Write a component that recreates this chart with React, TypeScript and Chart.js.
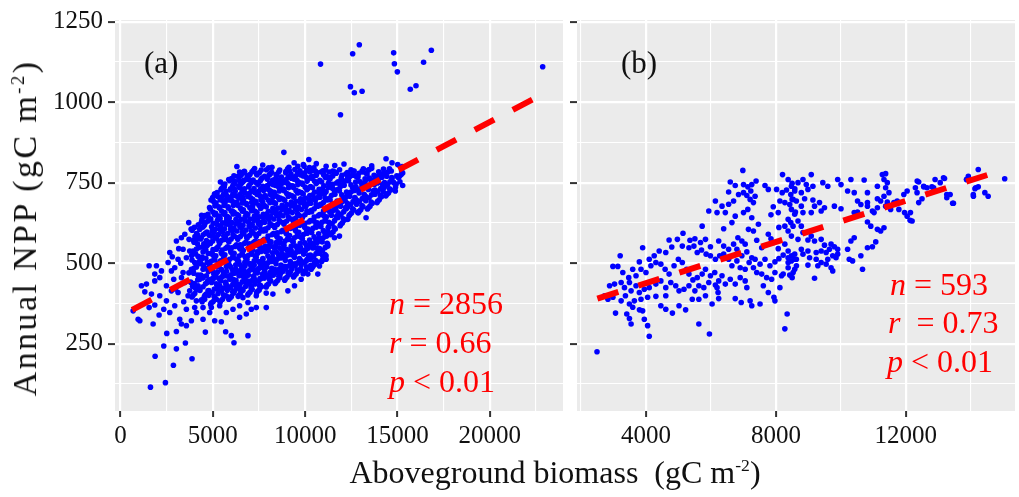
import React, { useEffect, useRef } from "react";
import { Chart, registerables } from "chart.js";

Chart.register(...registerables);

// ---------- Axis settings ----------
const yRange: [number, number] = [41, 1255];
const yMajor = [250, 500, 750, 1000, 1250];
const yMinor = [125, 375, 625, 875, 1125];
const aXRange: [number, number] = [-300, 23960];
const aXMajor = [0, 5000, 10000, 15000, 20000];
const aXMinor = [2500, 7500, 12500, 17500, 22500];
const bXRange: [number, number] = [1877, 15360];
const bXMajor = [4000, 8000, 12000];
const bXMinor = [2000, 6000, 10000, 14000];

// ---------- Regression lines ----------
const aFitX = [630, 22860];
const aFitY = [355, 1025];
const bFitX = [2504, 15045];
const bFitY = [390, 791];

// ---------- Panel (a) points ----------
const aOutliers: [number, number][] = [
  [10830,1118],[11910,961],[12570,1150],[12930,1178],[12450,1048],[12660,1029],[13080,1034],
  [14790,1153],[14830,1119],[14990,1094],[15690,1040],[16000,1051],[16410,1124],[16830,1161],[22860,1110],
];
const aTail: [number, number][] = [
  [1620,115],[2431,129],[1872,211],[2863,183],[3872,203],[2341,243],[3025,234],[3512,252],[2503,282],[3025,288],
  [4593,286],[5692,287],[6143,253],[5999,275],[6900,275],[1764,311],[953,326],[1043,321],[683,352],[1548,362],
  [1314,411],[1133,430],[1548,492],[1944,492],[1854,466],[2215,476],[2575,502],[2665,533],[3025,569],[3296,579],
  [3692,626],[3836,605],[4287,605],[4377,628],[4557,648],[4827,636],[5098,715],[5368,672],[5332,646],[5728,698],
  [6179,729],[6449,755],[6179,755],[6449,783],[6720,783],[7260,794],[6810,760],[3566,517],[2935,486],[2881,450],
  [2485,430],[2124,455],[1854,445],[1674,404],[1404,435],[1854,370],[2088,339],[2341,357],[2665,347],[2935,368],
  [3206,326],[3296,311],[3566,306],[3836,321],[4107,347],[4467,326],[4827,347],[5098,321],[5458,318],[5728,347],
  [6089,357],[6449,332],[6810,342],[7080,357],[7350,362],[7891,362],[3710,574],[4107,574],[3386,543],[3746,538],
  [3116,512],[2755,476],[3386,471],[3926,476],[4377,512],[4647,553],[4918,584],[5368,605],[5638,574],[5909,626],
  [5188,543],[4197,430],[4557,388],[5188,388],[5728,399],[6179,414],[6629,393],[3656,399],[3116,409],[2485,383],
  [2124,399],[2755,414],[3476,440],[3746,414],[4107,383],[4737,414],[5008,450],[5368,430],[6089,450],[6449,476],
  [5909,492],[5368,502],[4827,492],[4647,461],[4287,450],[4016,502],[4467,481],[5548,461],[5368,368],[4918,362],
  [4467,362],[4016,362],[3566,357],[6449,368],[6900,378],[7350,399],[7530,430],[7080,430],[6810,461],[6449,419],
  [3300,455],[3150,545],[3480,590],[2980,420],[3700,470],[3260,500],[2800,520],[3420,380],
];
const aEdge: [number, number][] = [
  [8844,844],[10196,822],[14377,824],[15008,806],[15278,780],[15278,741],[14881,724],[14232,721],[14377,744],
  [13836,760],[13746,744],[13476,791],[13295,641],[12845,657],[12305,636],[11854,584],[11583,579],[11224,553],
  [10953,522],[10683,466],[10142,466],[9782,450],[9421,430],[9061,414],[8250,404],[7890,407],[9601,801],[9153,786],
  [8430,775],[11133,801],[11493,786],[12305,775],[12755,770],[12575,786],[11133,512],[10773,491],[10503,502],[10322,481],
  [6300,800],[7700,805],[8200,798],[9400,812],[9900,806],[10600,809],[11600,803],[12100,808],[13600,802],[14700,812],
];
const aCore: [number, number][] = [
  [3870,395],[4140,418],[3990,437],[4230,459],[3840,481],[4090,497],[4200,521],[3930,538],[4160,560],[4030,583],[3880,602],[4210,619],
  [4390,386],[4640,404],[4470,427],[4720,445],[4350,463],[4580,484],[4700,503],[4420,519],[4620,541],[4510,560],[4370,579],[4680,597],[4540,618],[4410,636],[4730,652],
  [4880,372],[5130,391],[4960,409],[5220,432],[4840,449],[5050,466],[5240,488],[4910,506],[5160,523],[5010,542],[4870,561],[5200,577],[5060,596],[4930,613],[5250,633],[5090,650],[4860,668],[5170,687],[4990,704],[5230,719],
  [5390,379],[5630,398],[5460,414],[5700,436],[5340,452],[5570,471],[5730,490],[5420,507],[5650,526],[5510,541],[5370,562],[5680,580],[5530,598],[5430,616],[5750,633],[5590,652],[5360,671],[5660,688],[5490,706],[5710,723],[5570,741],[5410,752],
  [5860,388],[6130,407],[5960,425],[6220,441],[5820,460],[6070,478],[6240,495],[5910,512],[6150,531],[6010,548],[5870,566],[6180,583],[6050,601],[5930,617],[6250,636],[6090,653],[5840,671],[6160,688],[5990,705],[6210,723],[6070,739],[5910,756],[6140,771],
  [6370,397],[6630,416],[6460,433],[6700,452],[6340,470],[6570,487],[6730,503],[6420,522],[6650,539],[6490,557],[6350,574],[6680,591],[6550,609],[6410,627],[6750,644],[6590,661],[6360,679],[6660,696],[6470,713],[6710,731],[6550,748],[6420,766],[6640,781],
  [6890,401],[7130,419],[6940,436],[7220,455],[6820,472],[7070,490],[7240,507],[6910,524],[7150,541],[6990,560],[6850,577],[7180,594],[7030,612],[6930,628],[7250,646],[7090,663],[6840,681],[7160,698],[6970,716],[7230,732],[7070,750],[6880,767],[7120,784],
  [7370,408],[7630,427],[7460,444],[7720,461],[7320,479],[7570,496],[7710,514],[7420,531],[7650,548],[7490,566],[7350,583],[7700,600],[7550,618],[7410,635],[7730,652],[7590,670],[7340,687],[7660,704],[7470,722],[7710,739],[7570,756],[7390,774],[7620,789],
  [7890,426],[8130,445],[7940,462],[8220,480],[7840,497],[8070,514],[8240,532],[7910,549],[8150,566],[7990,584],[7850,601],[8200,618],[8030,636],[7930,653],[8250,670],[8090,688],[7860,705],[8160,722],[7970,740],[8230,757],[8050,774],[7900,790],
  [8370,437],[8630,455],[8460,472],[8700,490],[8340,507],[8570,524],[8730,542],[8420,559],[8650,576],[8490,594],[8350,611],[8680,628],[8550,646],[8410,663],[8750,680],[8590,698],[8360,715],[8640,732],[8470,750],[8710,767],[8570,784],
  [8890,447],[9130,465],[8940,482],[9220,500],[8840,517],[9070,534],[9240,552],[8910,569],[9150,586],[8990,604],[8850,621],[9180,638],[9030,656],[8930,673],[9250,690],[9090,708],[8860,725],[9160,742],[8970,760],[9230,777],[9050,793],
  [9370,457],[9630,475],[9460,492],[9700,510],[9340,527],[9570,544],[9730,562],[9420,579],[9650,596],[9490,614],[9350,631],[9680,648],[9550,666],[9410,683],[9750,700],[9590,718],[9360,735],[9640,752],[9470,770],[9710,787],
  [9890,467],[10130,485],[9940,502],[10220,520],[9840,537],[10070,554],[10240,572],[9910,589],[10150,606],[9990,624],[9850,641],[10180,658],[10030,676],[9930,693],[10250,710],[10090,728],[9860,745],[10160,762],[9970,780],[10230,797],
  [10370,486],[10630,504],[10460,521],[10700,539],[10340,556],[10570,573],[10730,591],[10420,608],[10650,625],[10490,643],[10350,660],[10680,677],[10550,695],[10410,712],[10750,729],[10590,747],[10360,764],[10640,781],[10470,796],
  [10890,505],[11130,523],[10940,540],[11220,558],[10840,575],[11070,592],[11240,610],[10910,627],[11150,644],[10990,662],[10850,679],[11180,696],[11030,714],[10930,731],[11250,748],[11090,766],[10860,783],
  [11370,588],[11630,606],[11460,623],[11700,641],[11340,658],[11570,675],[11730,693],[11420,710],[11650,727],[11490,745],[11350,762],[11680,779],
  [11890,616],[12130,634],[11940,651],[12220,669],[11840,686],[12070,703],[12240,721],[11910,738],[12150,755],[11990,773],[11860,790],
  [12370,647],[12630,665],[12460,682],[12700,700],[12340,717],[12570,734],[12730,752],[12420,769],[12650,786],
  [12890,657],[13130,675],[12940,692],[13220,710],[12840,727],[13070,744],[13240,762],[12910,779],[13150,793],
  [13370,668],[13630,686],[13460,703],[13700,721],[13340,738],[13570,755],[13730,773],[13420,789],
  [13890,688],[14130,706],[13940,723],[14220,741],[13840,758],[14070,775],[14240,792],
  [14370,709],[14630,727],[14460,744],[14700,762],[14340,779],[14560,793],
  [14890,736],[15130,753],[14960,771],[15220,788],
];
const aCore2: [number, number][] = [
  [4020,406],[3900,428],[4180,448],[3960,469],[4110,488],[3870,510],[4060,529],[4240,549],[3950,571],[4120,592],[4000,611],
  [4530,395],[4300,415],[4600,436],[4440,454],[4760,474],[4490,494],[4310,511],[4750,530],[4420,550],[4650,570],[4480,588],[4300,607],[4620,627],[4520,645],
  [5020,381],[4780,400],[5080,420],[4930,440],[5180,457],[4970,477],[4800,497],[5070,514],[4950,532],[5280,551],[4990,569],[4800,587],[5130,605],[5020,624],[4780,641],[5000,659],[5110,678],[4900,696],[5080,712],
  [5520,388],[5280,406],[5580,423],[5430,445],[5680,461],[5470,480],[5290,498],[5580,516],[5450,534],[5790,551],[5480,571],[5300,589],[5630,607],[5520,625],[5290,643],[5480,661],[5600,679],[5390,697],[5580,714],[5470,732],[5650,746],
  [6000,396],[5780,416],[6080,434],[5920,450],[6160,469],[5980,487],[5800,504],[6080,521],[5960,539],[6280,557],[5990,575],[5800,592],[6140,609],[6020,626],[5790,645],[5990,662],[6110,679],[5890,696],[6080,714],[5960,731],[6180,748],[6010,763],
  [6500,406],[6280,424],[6590,442],[6420,461],[6670,478],[6480,495],[6290,512],[6580,530],[6440,548],[6780,565],[6490,583],[6300,600],[6630,618],[6520,636],[6290,652],[6500,670],[6600,687],[6390,704],[6580,722],[6460,739],[6680,757],[6530,773],
  [7010,410],[6780,428],[7080,445],[6920,463],[7160,481],[6980,498],[6790,515],[7080,532],[6950,550],[7280,568],[6990,586],[6800,603],[7130,620],[7010,637],[6790,655],[7000,672],[7100,689],[6890,707],[7080,724],[6960,741],[7180,758],[7010,775],
  [7510,417],[7280,435],[7590,452],[7420,470],[7660,487],[7480,505],[7290,522],[7580,540],[7450,557],[7780,574],[7490,592],[7300,609],[7630,627],[7510,644],[7290,661],[7500,679],[7600,696],[7390,713],[7580,730],[7460,748],[7680,765],[7520,781],
  [8010,435],[7780,453],[8090,471],[7920,488],[8160,505],[7980,523],[7790,540],[8080,557],[7950,575],[8280,592],[7990,610],[7800,627],[8130,645],[8010,661],[7790,679],[8000,696],[8100,714],[7890,731],[8080,748],[7960,765],[8180,782],
  [8510,446],[8280,463],[8590,481],[8420,498],[8660,516],[8480,533],[8290,550],[8580,568],[8450,585],[8780,602],[8490,620],[8300,637],[8630,654],[8510,671],[8290,689],[8500,706],[8600,724],[8390,741],[8580,758],[8460,776],
  [9010,456],[8780,474],[9090,491],[8920,509],[9160,526],[8980,543],[8790,560],[9080,578],[8950,595],[9280,612],[8990,630],[8800,647],[9130,664],[9010,682],[8790,699],[9000,716],[9100,734],[8890,751],[9080,768],[8960,785],
  [9510,466],[9280,483],[9590,501],[9420,518],[9660,536],[9480,553],[9290,570],[9580,588],[9450,605],[9780,622],[9490,640],[9300,657],[9630,674],[9510,692],[9290,709],[9500,726],[9600,744],[9390,761],[9580,778],
  [10010,476],[9780,494],[10090,511],[9920,528],[10160,546],[9980,563],[9790,580],[10080,598],[9950,615],[10280,632],[9990,650],[9800,667],[10130,684],[10010,702],[9790,719],[10000,736],[10100,754],[9890,771],[10080,788],
  [10510,495],[10280,512],[10590,530],[10420,547],[10660,565],[10480,582],[10290,599],[10580,617],[10450,634],[10780,651],[10490,669],[10300,686],[10630,703],[10510,721],[10290,738],[10500,755],[10600,773],[10390,788],
  [11010,514],[10780,531],[11090,549],[10920,566],[11160,584],[10980,601],[10790,618],[11080,636],[10950,653],[11280,670],[10990,688],[10800,705],[11130,722],[11010,740],[10790,757],[11000,774],[11100,789],
  [11510,597],[11280,614],[11590,632],[11420,649],[11660,667],[11480,684],[11290,701],[11580,719],[11450,736],[11780,753],[11490,771],[11300,783],
  [12010,625],[11780,642],[12090,660],[11920,677],[12160,695],[11980,712],[11790,729],[12080,747],[11950,764],[12280,781],
  [12510,656],[12280,673],[12590,691],[12420,708],[12660,726],[12480,743],[12290,760],[12580,778],
  [13010,666],[12780,683],[13090,701],[12920,718],[13160,736],[12980,753],[12790,770],[13080,786],
  [13510,677],[13280,694],[13590,712],[13420,729],[13660,747],[13480,764],[13290,780],
  [14010,697],[13780,714],[14090,732],[13920,749],[14160,767],[13980,784],
  [14510,718],[14280,735],[14590,753],[14420,770],[14660,786],
  [14800,750],[15050,765],[15200,775],
];
const aCore3: [number, number][] = [
  [3930,400],[4070,421],[3800,441],[4190,463],[3980,484],[4240,503],[3850,524],[4110,544],[3980,565],[4170,587],[3830,606],
  [4420,380],[4570,400],[4280,420],[4690,440],[4480,458],[4740,478],[4340,498],[4620,515],[4470,535],[4700,556],[4330,575],[4590,593],[4460,612],[4740,631],[4390,649],
  [4920,377],[5070,396],[4780,415],[5190,436],[4980,452],[5240,472],[4850,492],[5110,510],[4980,527],[5200,546],[4830,565],[5090,582],[4960,600],[5240,619],[4890,637],[5150,655],[4820,673],[5050,691],[5250,708],
  [5420,383],[5570,402],[5280,419],[5690,441],[5480,457],[5740,475],[5350,494],[5610,512],[5480,529],[5700,546],[5330,567],[5590,585],[5460,603],[5740,621],[5390,639],[5650,657],[5320,675],[5550,692],[5750,710],[5440,728],[5620,737],
  [5920,392],[6070,411],[5780,430],[6190,446],[5980,464],[6240,482],[5850,500],[6110,517],[5980,534],[6200,552],[5830,570],[6090,588],[5960,605],[6240,622],[5890,640],[6150,658],[5820,675],[6050,692],[6250,709],[5940,727],[6120,744],[5860,760],
  [6420,401],[6570,420],[6280,437],[6690,456],[6480,474],[6740,491],[6350,508],[6610,526],[6480,544],[6700,561],[6330,579],[6590,596],[6460,614],[6740,632],[6390,648],[6650,666],[6320,683],[6550,700],[6750,718],[6440,735],[6620,752],[6360,770],[6700,785],
  [6920,405],[7070,424],[6780,441],[7190,459],[6980,477],[7240,494],[6850,511],[7110,528],[6980,546],[7200,564],[6830,581],[7090,599],[6960,616],[7240,633],[6890,651],[7150,668],[6820,685],[7050,703],[7250,720],[6940,737],[7120,754],[6860,771],[7200,788],
  [7420,413],[7570,431],[7280,448],[7690,466],[7480,483],[7740,501],[7350,518],[7610,536],[7480,553],[7700,570],[7330,588],[7590,605],[7460,623],[7740,640],[7390,657],[7650,675],[7320,692],[7550,709],[7750,726],[7440,744],[7620,761],[7360,778],
  [7920,431],[8070,449],[7780,467],[8190,484],[7980,501],[8240,519],[7850,536],[8110,553],[7980,571],[8200,588],[7830,606],[8090,623],[7960,641],[8240,657],[7890,675],[8150,692],[7820,710],[8050,727],[8250,744],[7940,761],[8120,778],[8020,796],
  [8420,441],[8570,459],[8280,476],[8690,494],[8480,512],[8740,528],[8350,546],[8610,564],[8480,581],[8700,598],[8330,616],[8590,633],[8460,650],[8740,667],[8390,685],[8650,702],[8320,720],[8550,737],[8750,754],[8440,771],[8620,789],
  [8920,452],[9070,470],[8780,487],[9190,505],[8980,522],[9240,539],[8850,556],[9110,574],[8980,591],[9200,608],[8830,626],[9090,643],[8960,660],[9240,678],[8890,695],[9150,712],[8820,730],[9050,747],[9250,764],[8940,781],[9120,798],
  [9420,462],[9570,479],[9280,497],[9690,514],[9480,532],[9740,549],[9350,566],[9610,584],[9480,601],[9700,618],[9330,636],[9590,653],[9460,670],[9740,688],[9390,705],[9650,722],[9320,740],[9550,757],[9750,774],[9440,791],
  [9920,472],[10070,489],[9780,507],[10190,524],[9980,541],[10240,559],[9850,576],[10110,593],[9980,611],[10200,628],[9830,645],[10090,662],[9960,680],[10240,697],[9890,715],[10150,732],[9820,749],[10050,767],[10250,784],[9940,801],
  [10420,490],[10570,508],[10280,525],[10690,543],[10480,560],[10740,578],[10350,595],[10610,612],[10480,630],[10700,647],[10330,664],[10590,682],[10460,699],[10740,716],[10390,734],[10650,751],[10320,768],[10550,786],
  [10920,509],[11070,527],[10780,545],[11190,562],[10980,579],[11240,597],[10850,614],[11110,631],[10980,649],[11200,666],[10830,683],[11090,701],[10960,718],[11240,735],[10890,752],[11150,770],[10960,787],
  [11420,592],[11570,610],[11280,627],[11690,645],[11480,662],[11740,680],[11350,697],[11610,714],[11480,732],[11700,749],[11330,766],[11590,784],
  [11920,620],[12070,638],[11780,656],[12190,673],[11980,690],[12240,708],[11850,725],[12110,742],[11980,760],[12200,777],
  [12420,651],[12570,669],[12280,686],[12690,704],[12480,721],[12740,738],[12350,756],[12610,773],[12480,790],
  [12920,661],[13070,679],[12780,696],[13190,714],[12980,731],[13240,749],[12850,766],[13110,783],
  [13420,672],[13570,690],[13280,707],[13690,725],[13480,742],[13740,760],[13350,777],[13600,795],
  [13920,692],[14070,710],[13780,727],[14190,745],[13980,762],[14240,780],
  [14420,714],[14570,731],[14280,749],[14690,766],[14480,783],
  [14920,745],[15100,770],[15250,800],
];
const aDense: [number, number][] = [
  [6250,447],[6600,462],[6850,445],[7300,470],[7550,452],[7800,476],[8100,458],[8350,481],[8650,466],[8900,490],
  [9200,474],[9450,498],[9750,482],[10050,506],[10300,493],[6400,505],[6750,520],[7050,498],[7400,535],[7700,512],
  [8000,540],[8300,507],[8600,548],[8850,525],[9150,541],[9400,520],[9700,553],[10000,537],[10350,561],[10650,548],
  [6550,548],[7250,560],[7850,553],[8450,565],[9050,575],[9600,585],[5750,640],[6050,662],[6300,690],[6600,705],
  [6850,650],[7150,676],[7400,720],[7700,690],[7950,741],[8250,705],[8450,650],[5950,700],[6400,740],[6950,760],
  [7350,750],[7800,770],[8350,760],[8700,745],[9300,765],[9800,780],[10400,770],[11300,760],[11800,750],[12300,765],
  [12850,770],[13300,760],[13900,770],[14300,750],
];

// ---------- Panel (b) points ----------
const bPoints: [number, number][] = [
  [6982,788],[8204,775],[8377,760],[8499,748],[8581,731],[6595,752],[6748,741],[7003,744],[7135,737],[7257,744],
  [7390,755],[7227,724],[7003,719],[6850,713],[6545,721],[7664,741],[7766,729],[8021,729],[8194,719],[8326,727],
  [8458,713],[8499,698],[8123,693],[8275,688],[8479,667],[8601,659],[7919,675],[8072,657],[7848,650],[8377,636],
  [8458,626],[8275,615],[8092,611],[6137,693],[6341,677],[6545,683],[6697,693],[6443,657],[6188,657],[5934,662],
  [6646,626],[6392,607],[6748,646],[7003,657],[7135,667],[7308,688],[7359,708],[7206,698],[7105,710],[7257,641],
  [7155,605],[7308,600],[7461,621],[7410,571],[7563,548],[7766,590],[7848,576],[7919,564],[8072,545],[8275,559],
  [8377,538],[8479,523],[8581,512],[8224,525],[8092,514],[7970,504],[7817,492],[7664,512],[7512,497],[7359,512],
  [7257,517],[7105,535],[6952,523],[6799,543],[6830,579],[6952,569],[7054,559],[6697,559],[6545,543],[6392,553],
  [6239,569],[5985,551],[5730,615],[5832,574],[5679,564],[5506,576],[5354,571],[5140,593],[4967,574],[4712,572],
  [4794,550],[5119,553],[5323,548],[5476,553],[5578,533],[5710,541],[5852,528],[5985,523],[6137,512],[6270,523],
  [6392,528],[6545,512],[6646,492],[6799,507],[6901,486],[7054,481],[7176,502],[7308,486],[7410,471],[7563,466],
  [7715,455],[7868,450],[7970,471],[8173,461],[8377,486],[8530,471],[8632,492],[4610,533],[4407,538],[4254,523],
  [4101,512],[3898,548],[3796,504],[3592,481],[3470,455],[3287,471],[3206,523],[3134,490],[2982,490],[2880,430],
  [3033,435],[3236,440],[3338,424],[3491,440],[3694,461],[3847,481],[4000,471],[4152,492],[4305,502],[4458,497],
  [4590,481],[4712,466],[4865,492],[4997,512],[5119,502],[5252,481],[5323,466],[5445,448],[5578,455],[5730,466],
  [5832,481],[5985,461],[6117,471],[6239,445],[6341,461],[6443,435],[6595,450],[6748,435],[6901,455],[7054,445],
  [6188,424],[6219,409],[6239,390],[6137,432],[5934,440],[5781,424],[5628,430],[5506,414],[5323,430],[5170,419],
  [5018,414],[4916,430],[4763,440],[4610,424],[4458,445],[4305,435],[4101,424],[3949,419],[3796,409],[3694,430],
  [3542,414],[3368,399],[3236,383],[2982,394],[2829,388],[2727,399],[4610,399],[4305,397],[4051,394],[3847,388],
  [3643,383],[3491,373],[3592,363],[3898,352],[3949,326],[4051,306],[4101,273],[3800,355],[4458,368],[4610,357],
  [4814,345],[5018,368],[5221,355],[5425,388],[5628,388],[5832,399],[6035,373],[6748,390],[6932,378],[7105,424],
  [7206,383],[7257,368],[7512,373],[7613,430],[7766,409],[7939,394],[7970,383],[8123,424],[8224,466],[8377,502],
  [3063,345],[3409,342],[3491,328],[3542,311],[5628,311],[5954,280],[8346,342],[8275,296],[2493,225],
  [9088,775],[8833,760],[8680,750],[8935,744],[8477,739],[8579,724],[8782,719],[8986,729],[9139,739],[9444,750],
  [9597,739],[9902,760],[10004,744],[10309,760],[10207,724],[10411,719],[10716,758],[10818,719],[10513,693],[10615,682],
  [10818,688],[11124,739],[11276,775],[11378,778],[11327,760],[11429,750],[11378,734],[11480,719],[11327,708],[11124,700],
  [11225,693],[11429,690],[11378,677],[11124,672],[11531,667],[10971,662],[10818,677],[11022,657],[10513,659],[10411,657],
  [8528,698],[8426,682],[8630,693],[8782,677],[8884,700],[9139,696],[9189,677],[9342,688],[9495,672],[9800,677],
  [10004,669],[9393,662],[9088,657],[8833,657],[8579,652],[8680,631],[8528,615],[8782,615],[8375,600],[8477,584],
  [8680,574],[8833,595],[8986,572],[9088,584],[9189,569],[9393,574],[9495,556],[9698,559],[9800,551],[9902,543],
  [9648,543],[9546,533],[9393,538],[9240,533],[8986,538],[8782,543],[8579,528],[8375,517],[8477,507],[8630,512],
  [8833,528],[9037,517],[9240,512],[9393,502],[9546,497],[9698,486],[9851,517],[9902,528],[9749,523],[9597,512],
  [9291,492],[8986,494],[8579,481],[8426,463],[8500,455],[9189,453],[9749,476],[10207,543],[10309,569],[10411,579],
  [10258,512],[10360,507],[10615,523],[10818,548],[10971,551],[11073,566],[11225,600],[11327,610],[11124,605],[10818,628],
  [10920,615],[10666,481],[11633,688],[11734,693],[11938,713],[11785,667],[12040,724],[12294,734],[12396,752],[12549,739],
  [12345,719],[12498,700],[12651,734],[12803,737],[13058,750],[13160,765],[13363,713],[13261,703],[13465,686],[13923,770],
  [14229,791],[14127,731],[14229,737],[14432,719],[14534,708],[14076,713],[15043,762],[12040,646],[12193,631],[12142,657],
  [12396,688],[12350,755],[12550,737],[12855,734],[13190,763],[13260,713],[13440,686],[13870,760],[14150,734],[11960,657],
  [12130,633],[14080,708],[13870,760],[12900,760],
];

// ---------- helpers ----------
const FONT = '"Liberation Serif", "Times New Roman", serif';
const toXY = (arr: [number, number][]) => arr.map(([x, y]) => ({ x, y }));
const fitData = (xs: number[], ys: number[]) => xs.map((x, i) => ({ x, y: ys[i] }));

const panelBg = {
  id: "panelBg",
  beforeDraw(chart: any) {
    const { ctx, chartArea } = chart;
    if (!chartArea) return;
    ctx.save();
    ctx.fillStyle = "#EBEBEB";
    ctx.fillRect(chartArea.left, chartArea.top, chartArea.right - chartArea.left, chartArea.bottom - chartArea.top);
    ctx.restore();
  },
};

type PanelProps = {
  left: number;
  width: number;
  yAxisWidth: number;
  showYLabels: boolean;
  padRight: number;
  points: [number, number][];
  fitX: number[];
  fitY: number[];
  xRange: [number, number];
  xMajor: number[];
  xMinor: number[];
};

function Panel(p: PanelProps) {
  const ref = useRef<HTMLCanvasElement | null>(null);
  useEffect(() => {
    if (!ref.current) return;
    const xAll = [...p.xMajor, ...p.xMinor].sort((a, b) => a - b);
    const yAll = [...yMajor, ...yMinor].sort((a, b) => a - b);
    const isXMajor = (v: number) => p.xMajor.includes(v);
    const isYMajor = (v: number) => yMajor.includes(v);
    const chart = new Chart(ref.current, {
      type: "scatter",
      data: {
        datasets: [
          {
            type: "line",
            data: fitData(p.fitX, p.fitY),
            borderColor: "#FF0000",
            borderWidth: 6,
            borderDash: [22, 21],
            borderCapStyle: "butt",
            pointRadius: 0,
            fill: false,
            showLine: true,
            tension: 0,
          } as any,
          {
            data: toXY(p.points),
            pointRadius: 2.8,
            pointBackgroundColor: "#0000FF",
            pointBorderWidth: 0,
            showLine: false,
          } as any,
        ],
      },
      options: {
        animation: false,
        responsive: false,
        maintainAspectRatio: false,
        events: [],
        layout: { padding: { top: 20, right: p.padRight, bottom: 0, left: 0 } },
        plugins: { legend: { display: false }, tooltip: { enabled: false } },
        scales: {
          x: {
            type: "linear",
            min: p.xRange[0],
            max: p.xRange[1],
            afterBuildTicks: (s: any) => {
              s.ticks = xAll.map((v) => ({ value: v }));
            },
            afterFit: (s: any) => {
              s.height = 86;
            },
            border: { display: false },
            grid: {
              color: "#FFFFFF",
              lineWidth: (c: any) => (c.tick && isXMajor(c.tick.value) ? 2.2 : 1.1),
              tickColor: (c: any) => (c.tick && isXMajor(c.tick.value) ? "#333333" : "rgba(0,0,0,0)"),
              tickLength: 6,
              tickWidth: 2,
            },
            ticks: {
              autoSkip: false,
              maxRotation: 0,
              padding: 4,
              color: "#111111",
              font: { family: FONT, size: 25 },
              callback: (v: any) => (isXMajor(Number(v)) ? String(v) : ""),
            },
          },
          y: {
            type: "linear",
            min: yRange[0],
            max: yRange[1],
            afterBuildTicks: (s: any) => {
              s.ticks = yAll.map((v) => ({ value: v }));
            },
            afterFit: (s: any) => {
              s.width = p.yAxisWidth;
            },
            border: { display: false },
            grid: {
              color: "#FFFFFF",
              lineWidth: (c: any) => (c.tick && isYMajor(c.tick.value) ? 2.2 : 1.1),
              tickColor: (c: any) => (c.tick && isYMajor(c.tick.value) ? "#333333" : "rgba(0,0,0,0)"),
              tickLength: 7,
              tickWidth: 2,
            },
            ticks: {
              autoSkip: false,
              padding: 5,
              color: "#111111",
              font: { family: FONT, size: 25 },
              callback: (v: any) => (p.showYLabels && isYMajor(Number(v)) ? String(v) : ""),
            },
          },
        },
      } as any,
      plugins: [panelBg],
    });
    return () => chart.destroy();
  }, []);
  return (
    <canvas
      ref={ref}
      width={p.width}
      height={497}
      style={{ position: "absolute", left: p.left, top: 0, width: p.width, height: 497 }}
    />
  );
}

const txt = (extra: React.CSSProperties): React.CSSProperties => ({
  position: "absolute",
  fontFamily: FONT,
  lineHeight: 1,
  whiteSpace: "pre",
  ...extra,
});

export default function App() {
  const aPoints = [...aTail, ...aCore, ...aCore2, ...aCore3, ...aDense, ...aEdge, ...aOutliers];
  const red = "#FF0000";
  return (
    <div style={{ position: "absolute", left: 0, top: 0, width: 1019, height: 497, background: "#FFFFFF", overflow: "hidden" }}>
      <Panel left={0} width={567} yAxisWidth={115} showYLabels={true} padRight={2} points={aPoints}
        fitX={aFitX} fitY={aFitY} xRange={aXRange} xMajor={aXMajor} xMinor={aXMinor} />
      <Panel left={567} width={452} yAxisWidth={10} showYLabels={false} padRight={0} points={bPoints}
        fitX={bFitX} fitY={bFitY} xRange={bXRange} xMajor={bXMajor} xMinor={bXMinor} />

      <div style={txt({ left: 25, top: 228, fontSize: 34, letterSpacing: "2.4px", color: "#111", transform: "translate(-50%, -50%) rotate(-90deg)" })}>
        Annual NPP (gC m<sup style={{ fontSize: "0.55em" }}>-2</sup>)
      </div>
      <div style={txt({ left: 555, top: 456, fontSize: 32, color: "#111", transform: "translateX(-50%)" })}>
        Aboveground biomass  (gC m<sup style={{ fontSize: "0.55em" }}>-2</sup>)
      </div>

      <div style={txt({ left: 144, top: 47, fontSize: 31, color: "#111" })}>(a)</div>
      <div style={txt({ left: 621, top: 47, fontSize: 31, color: "#111" })}>(b)</div>

      <div style={txt({ left: 389, top: 287, fontSize: 32, color: red })}><i>n</i> = 2856</div>
      <div style={txt({ left: 389, top: 326, fontSize: 32, color: red })}><i>r</i> = 0.66</div>
      <div style={txt({ left: 389, top: 365, fontSize: 32, color: red })}><i>p</i> &lt; 0.01</div>

      <div style={txt({ left: 890, top: 268, fontSize: 32, color: red })}><i>n</i> = 593</div>
      <div style={txt({ left: 888, top: 306, fontSize: 32, color: red })}><i>r</i>  = 0.73</div>
      <div style={txt({ left: 887, top: 345, fontSize: 32, color: red })}><i>p</i> &lt; 0.01</div>
    </div>
  );
}
